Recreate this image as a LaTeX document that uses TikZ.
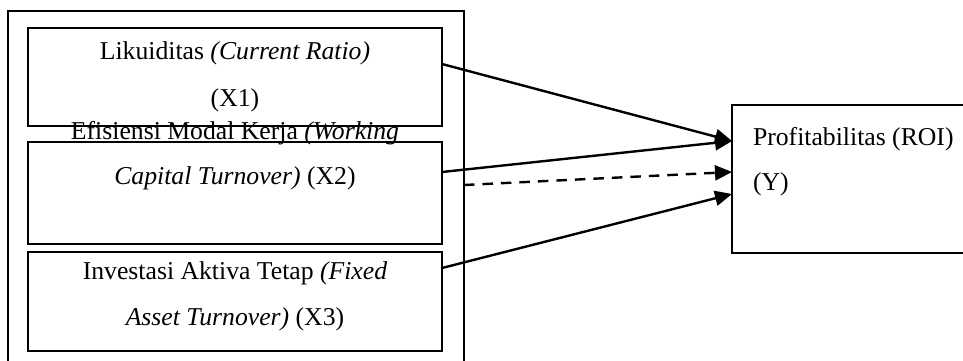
\documentclass[tikz,border=0pt]{standalone}
\usepackage{fontspec}
\setmainfont{Liberation Serif}
\usetikzlibrary{arrows.meta,calc}
\begin{document}
\begin{tikzpicture}[x=1pt,y=-1pt,
  box/.style={draw=black,line width=2pt,inner sep=0pt,outer sep=0pt},
  txt/.style={inner sep=0pt,outer sep=0pt,font=\fontsize{25.7pt}{30pt}\selectfont},
  conn/.style={line width=2.4pt,-{Triangle[length=17pt 0,width=15pt 0]}},
  dconn/.style={conn,dash pattern=on 10.5pt off 8pt}]
\clip (0,0) rectangle (963,360);
\fill[white] (0,0) rectangle (963,360);
% outer frame
\node[box,minimum width=456pt,minimum height=380pt] (outer) at (236,201) {};
% input boxes
\node[box,minimum width=414pt,minimum height=98pt] (x1) at (235,77) {};
\node[box,minimum width=414pt,minimum height=102pt] (x2) at (235,193) {};
\node[box,minimum width=414pt,minimum height=99pt] (x3) at (235,301.5) {};
% output box
\node[box,minimum width=260pt,minimum height=148pt] (y) at (862,179) {};
% texts
\node[txt,anchor=base] (t1a) at (235,59.3) {Likuiditas \textit{(Current Ratio)}};
\node[txt,anchor=base] (t1b) at (235,106) {(X1)};
\node[txt,anchor=base] (t2a) at (235,139.3) {Efisiensi Modal Kerja \textit{(Working}};
\node[txt,anchor=base] (t2b) at (235,184.5) {\textit{Capital Turnover)} (X2)};
\node[txt,anchor=base] (t3a) at (235,279.3) {Investasi Aktiva Tetap \textit{(Fixed}};
\node[txt,anchor=base] (t3b) at (235,325) {\textit{Asset Turnover)} (X3)};
\node[txt,anchor=base west] (ya) at (753,145.7) {Profitabilitas (ROI)};
\node[txt,anchor=base west] (yb) at (753,190.7) {(Y)};
% connectors
\draw[conn] ($(x1.north east)+(0,36)$) -- ($(y.north west)+(0,36)$);
\draw[conn] ($(x2.north east)+(0,30)$) -- ($(y.north west)+(0,36)$);
\draw[dconn] ($(outer.north east)+(0,174)$) -- ($(y.north west)+(0,67)$);
\draw[conn] ($(x3.north east)+(0,16)$) -- ($(y.north west)+(0,89)$);
\end{tikzpicture}
\end{document}
